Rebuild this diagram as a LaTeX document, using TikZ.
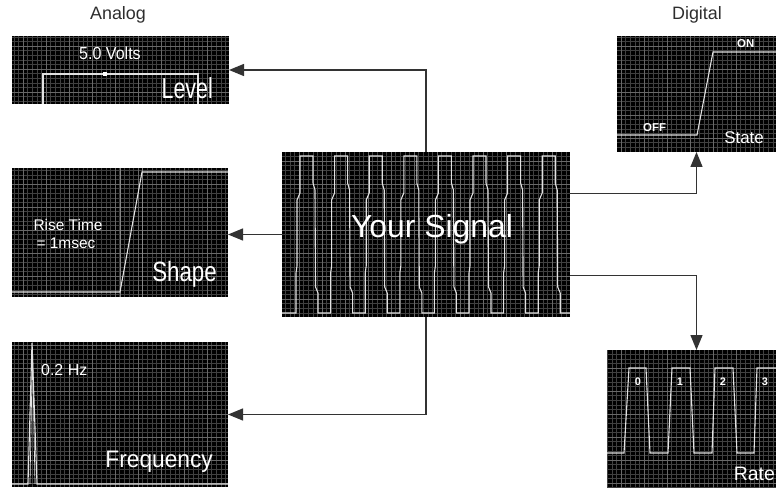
\documentclass[tikz,border=0pt]{standalone}
\usepackage{fontspec}
\usepackage{graphicx}
\setmainfont{Liberation Sans}
\usetikzlibrary{arrows.meta,calc}
\definecolor{connc}{HTML}{333333}
\definecolor{sigc}{HTML}{E2E2E2}
\definecolor{gfc}{HTML}{404040}
\definecolor{gmc}{HTML}{686868}
\definecolor{hdc}{HTML}{2E2E2E}
\newcommand\fsz[1]{\fontsize{#1}{#1}\selectfont}
\newcommand\gridin[1]{\begin{scope}
  \clip (#1.north west) rectangle (#1.south east);
  \draw[gfc, line width=0.5bp, step=4.6bp] (#1.north west) grid (#1.south east);
  \draw[gmc, line width=0.6bp, step=23bp] (#1.north west) grid (#1.south east);
\end{scope}}
\tikzset{
  box/.style={rectangle, fill=black, inner sep=0pt, outer sep=0pt, anchor=north west},
  conn/.style={draw=connc, line width=1.3bp, -{Triangle[length=15bp,width=12bp]}},
  sigl/.style={draw=sigc, line width=1.1bp, line join=miter},
  lbl/.style={text=white, inner sep=0pt},
  head/.style={text=hdc, inner sep=0pt, font={\fsz{18}}}
}
\begin{document}
\begin{tikzpicture}[x=1bp,y=-1bp]
\useasboundingbox (0,0) rectangle (776,488);
% boxes
\node[box, minimum width=217bp, minimum height=68bp] (level) at (12,36) {};
\node[box, minimum width=216bp, minimum height=129bp] (shape) at (12,168) {};
\node[box, minimum width=216bp, minimum height=145bp] (freq) at (12,342) {};
\node[box, minimum width=288bp, minimum height=165bp] (sig) at (282,152) {};
\node[box, minimum width=159bp, minimum height=116bp] (state) at (617,36) {};
\node[box, minimum width=169bp, minimum height=138bp] (rate) at (607,350) {};
\gridin{level}\gridin{shape}\gridin{freq}\gridin{sig}\gridin{state}\gridin{rate}
% headings
\node[head] (analog) at (118,15) {Analog};
\node[head] (digital) at (697,15) {Digital};
% level
\draw[sigl] (43,104) -- (43,74) -- (198,74) -- (198,104);
\fill[white] (103,72) rectangle (107,76);
\node[lbl, font={\fsz{17.5}}] (volts) at (110,53) {\scalebox{0.92}[1]{5.0 Volts}};
\node[lbl, font={\fsz{29}}, anchor=base east] (levell) at (213,99) {\scalebox{0.74}[1]{Level}};
% shape
\draw[gmc!80!white, line width=0.8bp] (120,168) -- (120,297) (142,168) -- (142,297);
\draw[sigl] (12,292) -- (120,292) -- (142,172) -- (228,172);
\node[lbl, font={\fsz{15.5}}] (rise) at (68,225) {Rise Time};
\node[lbl, font={\fsz{15.5}}] (msec) at (66,243) {= 1msec};
\node[lbl, font={\fsz{28}}, anchor=base east] (shapel) at (217,282) {\scalebox{0.8}[1]{Shape}};
% frequency
\draw[sigl] (12,484) -- (28,484) -- (32,343) -- (37,484) -- (228,484);
\draw[sigc, line width=0.7bp] (30,484) -- (32.5,347) -- (35,484);
\node[lbl, font={\fsz{16}}, anchor=base west] (hz) at (41,375) {0.2 Hz};
\node[lbl, font={\fsz{24}}, anchor=base east] (freql) at (213,467) {\scalebox{0.95}[1]{Frequency}};
% state
\draw[sigl] (617,135) -- (697,135) -- (713,52) -- (776,52);
\node[lbl, font={\fsz{11.5}\bfseries}, anchor=base west] (off) at (643,132) {OFF};
\node[lbl, font={\fsz{11.5}\bfseries}, anchor=base west] (on) at (737,48) {ON};
\node[lbl, font={\fsz{17}}, anchor=base east] (statel) at (764,144) {State};
% rate
\draw[sigl] (607,453) -- (624,453) -- (629,368) -- (646,368) -- (650,453) -- (668,453)
  -- (672,368) -- (690,368) -- (694,453) -- (712,453) -- (715,368) -- (733,368)
  -- (737,453) -- (754,453) -- (757,368) -- (776,368);
\node[lbl, font={\fsz{11}\bfseries}] (r0) at (638,382) {0};
\node[lbl, font={\fsz{11}\bfseries}] (r1) at (680,382) {1};
\node[lbl, font={\fsz{11}\bfseries}] (r2) at (723,382) {2};
\node[lbl, font={\fsz{11}\bfseries}] (r3) at (765,382) {3};
\node[lbl, font={\fsz{19.5}}, anchor=base east] (ratel) at (775,480) {Rate};
% your signal waveform
\begin{scope}
\clip (sig.north west) rectangle (sig.south east);
\draw[sigl] (282,313)
  \foreach \i in {0,...,7} {
    -- ({300+34.6*\i-4},313) -- ({300+34.6*\i-4},273) -- ({300+34.6*\i-3},266)
    -- ({300+34.6*\i-3},200) -- ({300+34.6*\i},193) -- ({300+34.6*\i},156)
    -- ({300+34.6*\i+13},156) -- ({300+34.6*\i+13},183) -- ({300+34.6*\i+15},190)
    -- ({300+34.6*\i+15.5},287) -- ({300+34.6*\i+18},293) -- ({300+34.6*\i+18},313)
  } -- (570,313);
\end{scope}
\node[lbl, font={\fsz{32}}] (yours) at (432,229) {Your Signal};
% connectors
\draw[conn] (sig.north) |- (level.east);
\draw[conn] (sig.west) -- (sig.west -| shape.east);
\draw[conn] (sig.south) |- (freq.east);
\draw[conn] ($(sig.north east)!0.25!(sig.south east)$) -| (state.south);
\draw[conn] ($(sig.north east)!0.75!(sig.south east)$) -| (rate.north -| state.south);
\end{tikzpicture}
\end{document}
